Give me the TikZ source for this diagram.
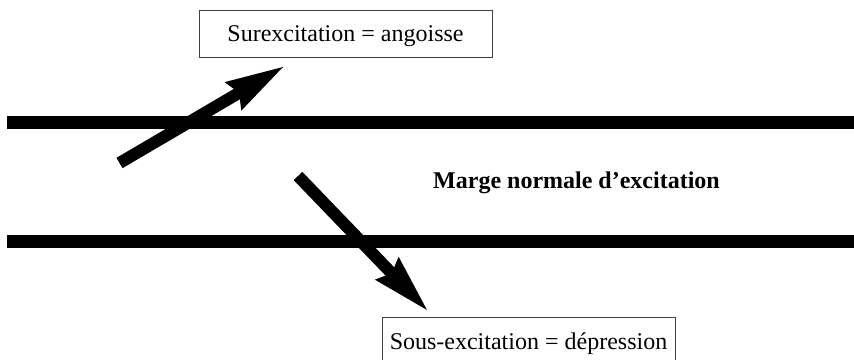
\documentclass[tikz,border=0pt]{standalone}
\usepackage{fontspec}
\setmainfont{Liberation Serif}
\usetikzlibrary{arrows.meta}
\begin{document}
\begin{tikzpicture}[x=1pt,y=-1pt,
  boxnode/.style={draw=black!75, line width=1pt, minimum width=293pt, minimum height=47pt, inner sep=0pt, text height=16pt, text depth=0pt, font=\fontsize{24}{28}\selectfont},
  bigarrow/.style={line width=12pt, -{Stealth[length=58pt,width=33pt,inset=7pt,line width=0pt]}},
  band/.style={line width=13pt}]
\useasboundingbox (0,0) rectangle (854,359);
\clip (0,0) rectangle (854,359);
% bands
\coordinate (l1s) at (7,122.5);
\coordinate (l1e) at (870,122.5);
\coordinate (l2s) at (7,241.5);
\coordinate (l2e) at (870,241.5);
\draw[band] (l1s) -- (l1e);
\draw[band] (l2s) -- (l2e);
% boxes
\node[boxnode] (sur) at (345.5,33.5) {Surexcitation = angoisse};
\node[boxnode] (sous) at (528.5,341) {Sous-excitation = dépression};
% label
\node[anchor=base west, inner sep=0pt, font=\fontsize{24}{28}\selectfont\bfseries] (marge) at (433,188) {Marge normale d’excitation};
% arrows
\coordinate (a1s) at (119.5,163);
\coordinate (a1e) at (283,67);
\coordinate (a2s) at (298,176);
\coordinate (a2e) at (427,310);
\draw[bigarrow] (a1s) -- (a1e);
\draw[bigarrow] (a2s) -- (a2e);
\end{tikzpicture}
\end{document}
